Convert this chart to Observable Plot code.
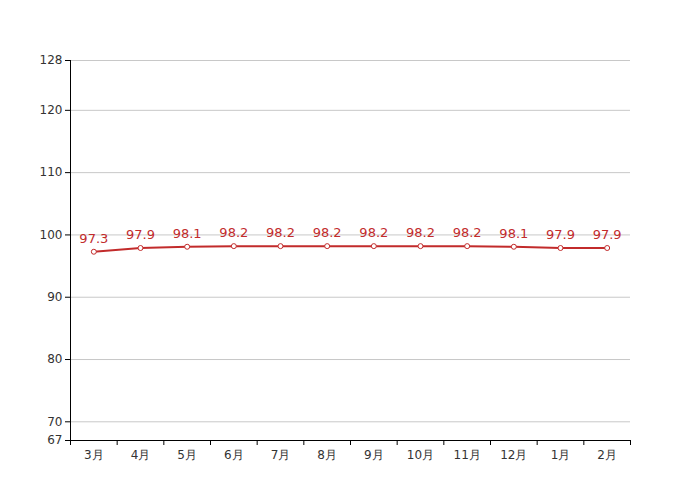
<!DOCTYPE html>
<html><head><meta charset="utf-8">
<script src="https://cdn.jsdelivr.net/npm/d3@7"></script>
<script src="https://cdn.jsdelivr.net/npm/@observablehq/plot@0.6"></script>
<style>body{margin:0;background:#fff;font-family:"DejaVu Sans",sans-serif;}</style>
</head><body><div id="chart"></div>
<script>
const months = ["3月","4月","5月","6月","7月","8月","9月","10月","11月","12月","1月","2月"];
const values = [97.3,97.9,98.1,98.2,98.2,98.2,98.2,98.2,98.2,98.1,97.9,97.9];
const yTicks = [67,70,80,90,100,110,120,128];
const gridTicks = [70,80,90,100,110,120,128];

const data = months.map((m,i)=>({i:i+0.5, m, v:values[i]}));
const red = "#c22b2b";
const chart = Plot.plot({
  width:700, height:500,
  marginLeft:70, marginRight:70, marginTop:60, marginBottom:60,
  style:{fontFamily:"DejaVu Sans, sans-serif", fontSize:"12px", color:"#333", background:"#fff"},
  x:{type:"linear", domain:[0,12]},
  y:{domain:[67,128]},
  marks:[
    Plot.ruleY(gridTicks,{stroke:"#c8c8c8", strokeWidth:1}),
    Plot.axisY({ticks:yTicks, tickSize:5, tickFormat:d=>String(d), label:null, stroke:"#000", tickPadding:3, fill:"#333"}),
    Plot.axisX({ticks:d3.range(0,13), tickSize:5, tickFormat:()=> "", label:null, stroke:"#000"}),
    Plot.axisX({ticks:data.map(d=>d.i), tickSize:0, tickPadding:10, tickFormat:d=>months[Math.floor(d)], label:null, fill:"#333"}),
    Plot.ruleY([67],{stroke:"#000"}),
    Plot.ruleX([0],{stroke:"#000"}),
    Plot.line(data,{x:"i", y:"v", stroke:red, strokeWidth:2}),
    Plot.dot(data,{x:"i", y:"v", r:2.5, fill:"#fff", stroke:red, strokeWidth:1}),
    Plot.text(data,{x:"i", y:"v", text:d=>d.v.toFixed(1), dy:-13, fill:red, fontSize:13})
  ]
});
document.getElementById("chart").appendChild(chart);
</script></body></html>
